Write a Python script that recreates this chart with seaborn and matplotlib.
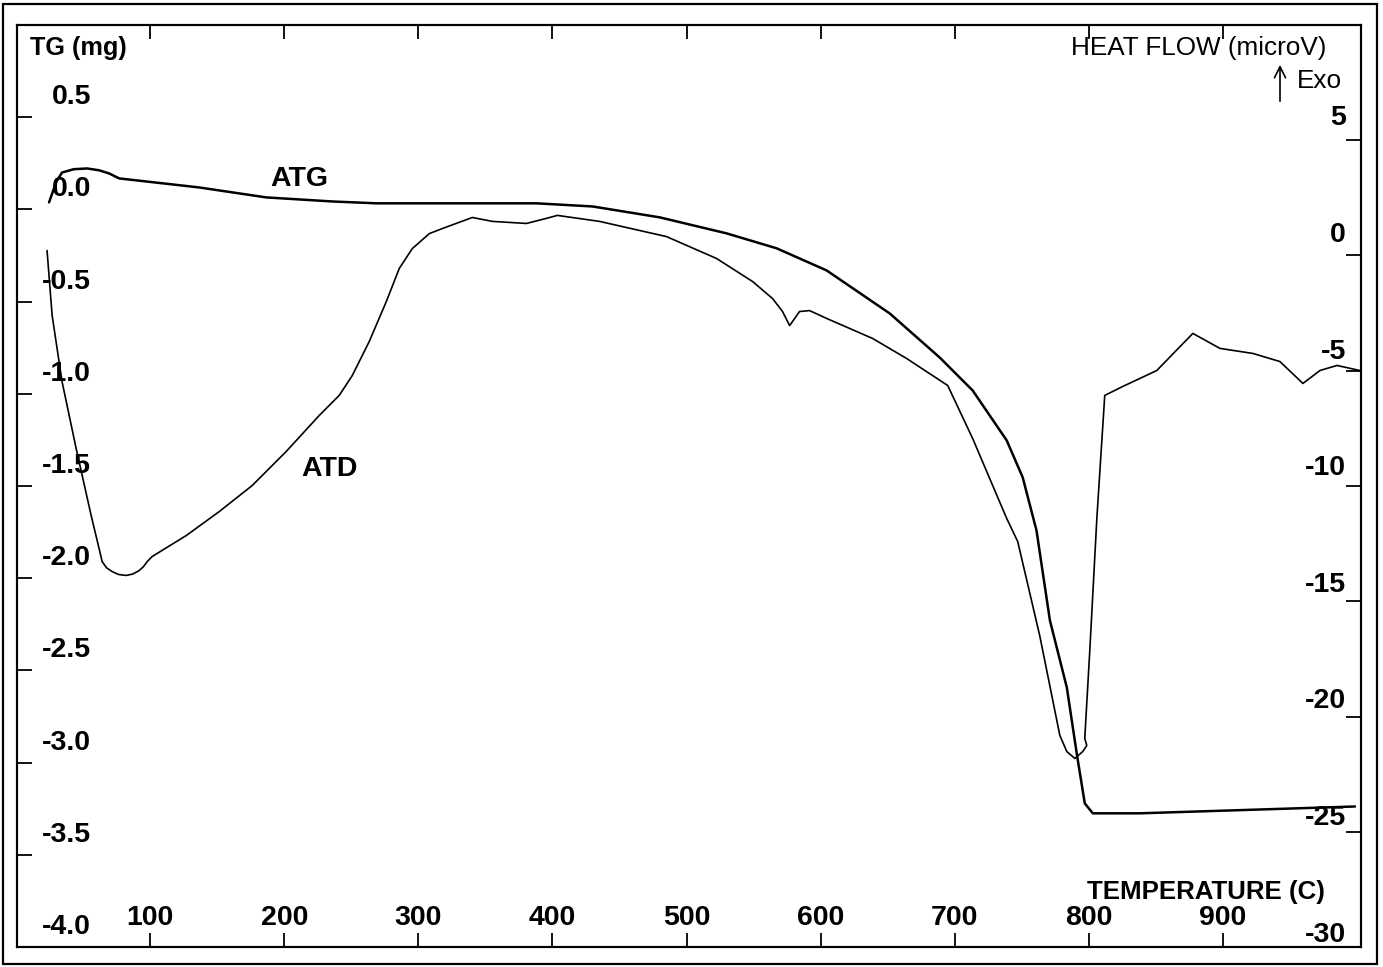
import matplotlib
matplotlib.use("Agg")
import matplotlib.pyplot as plt
import matplotlib.transforms as mtransforms
from matplotlib.patches import Rectangle
import seaborn as sns
import pandas as pd

# ---------------- data ----------------
tg_temp = [24.6, 30.0, 34.3, 43.0, 53.0, 62.0, 69.4, 76.9, 136.6, 186.6, 235.8, 268.7, 330.6, 388.0,
           429.9, 479.9, 529.9, 567.2, 604.5, 651.5, 688.8, 713.4, 738.8, 750.7,
           761.0, 771.0, 783.6, 791.0, 797.0, 803.0, 838.0, 998.5]
tg_mass = [0.038, 0.150, 0.200, 0.218, 0.222, 0.212, 0.195, 0.168, 0.119, 0.065, 0.043, 0.033, 0.033, 0.033,
           0.016, -0.043, -0.130, -0.211, -0.331, -0.564, -0.803, -0.982, -1.253, -1.453,
           -1.741, -2.229, -2.592, -2.950, -3.221, -3.275, -3.275, -3.238]

atd_temp = [23.1, 26.9, 34.3, 44.8, 56.0, 61.9, 64.2, 67.5, 71.6, 76.5, 82.1, 87.0, 91.8, 95.0, 97.8, 101.5,
            126.9, 151.5, 176.1, 201.5, 226.1, 241.0, 250.7, 263.4, 276.1, 285.8, 295.5,
            308.2, 317.9, 340.3, 355.2, 380.6, 395.5, 403.7, 435.1, 485.1, 522.4, 549.3,
            564.2, 571.6, 576.9, 584.3, 591.8, 604.5, 638.8, 664.2, 694.8, 713.4, 738.8,
            747.0, 763.4, 778.4, 783.6, 789.6, 795.5, 798.5, 797.0, 800.7, 806.0, 811.9,
            825.4, 850.7, 877.6, 897.8, 922.4, 942.5, 959.7, 972.4, 985.1, 1002.2]
atd_flow = [0.22, -2.60, -5.47, -8.37, -11.28, -12.71, -13.28, -13.55, -13.71, -13.84, -13.88, -13.82, -13.67, -13.50, -13.28, -13.06,
            -12.15, -11.11, -9.98, -8.50, -6.94, -6.07, -5.21, -3.73, -2.00, -0.56, 0.30,
            0.95, 1.17, 1.65, 1.48, 1.39, 1.61, 1.74, 1.48, 0.82, -0.13, -1.13,
            -1.87, -2.43, -3.04, -2.43, -2.39, -2.73, -3.60, -4.47, -5.64, -7.94, -11.41,
            -12.41, -16.49, -20.82, -21.52, -21.82, -21.52, -21.26, -20.95, -17.18, -11.41, -6.07,
            -5.68, -4.99, -3.38, -4.03, -4.25, -4.60, -5.55, -4.99, -4.77, -4.99]

x_ticks = [100, 200, 300, 400, 500, 600, 700, 800, 900]
tg_ticks = [0.5, 0.0, -0.5, -1.0, -1.5, -2.0, -2.5, -3.0, -3.5, -4.0]
tg_labels = ["0.5", "0.0", "-0.5", "-1.0", "-1.5", "-2.0", "-2.5", "-3.0", "-3.5", "-4.0"]
hf_ticks = [5, 0, -5, -10, -15, -20, -25, -30]
hf_labels = ["5", "0", "-5", "-10", "-15", "-20", "-25", "-30"]

tg_df = pd.DataFrame({"temp": tg_temp, "mass": tg_mass})
atd_df = pd.DataFrame({"temp": atd_temp, "flow": atd_flow})

# ---------------- style ----------------
sns.set_theme(style="white")
plt.rcParams["font.family"] = ["Liberation Sans", "DejaVu Sans"]

W, H = 1383, 967
fig = plt.figure(figsize=(W / 100, H / 100), dpi=100)
ax_l, ax_r, ax_t, ax_b = 17, 1361, 25, 947
ax = fig.add_axes([ax_l / W, 1 - ax_b / H, (ax_r - ax_l) / W, (ax_b - ax_t) / H])
ax2 = ax.twinx()

sns.lineplot(data=tg_df, x="temp", y="mass", ax=ax, color="black", lw=1.8,
             sort=False, estimator=None)
sns.lineplot(data=atd_df, x="temp", y="flow", ax=ax2, color="black", lw=1.2,
             sort=False, estimator=None)

ax.set_xlim(0.7, 1003)
ax.set_ylim(-4.0, 1.0)
ax2.set_ylim(-30, 10)
ax.set_xlabel("")
ax.set_ylabel("")
ax2.set_ylabel("")

for a in (ax, ax2):
    for s in a.spines.values():
        s.set_color("black")
        s.set_linewidth(1.5)

ax.set_xticks(x_ticks)
ax.set_yticks(tg_ticks)
ax2.set_yticks(hf_ticks)
ax.tick_params(axis="x", which="major", direction="in", length=10, width=1.3,
               top=True, bottom=True, labelbottom=False, labeltop=False, color="black")
ax.tick_params(axis="y", which="major", direction="in", length=10.5, width=1.3,
               left=True, right=False, labelleft=False, color="black")
ax2.tick_params(axis="y", which="major", direction="in", length=11, width=1.3,
                right=True, left=False, labelright=False, color="black")
ax2.tick_params(axis="x", bottom=False, top=False)

FS = 20.5
# left tick labels (inside, above the tick)
tr_left = mtransforms.offset_copy(
    mtransforms.blended_transform_factory(ax.transAxes, ax.transData),
    fig=fig, x=0, y=20, units="dots")
for v, lab in zip(tg_ticks, tg_labels):
    ax.text((91 - ax_l) / (ax_r - ax_l), v, lab, transform=tr_left, ha="right", va="center",
            fontsize=FS, fontweight="bold", color="black")

# right tick labels (their spacing drifts slightly from the ticks in the original)
for k, (v, lab) in enumerate(zip(hf_ticks, hf_labels)):
    tr_right = mtransforms.offset_copy(
        mtransforms.blended_transform_factory(ax2.transAxes, ax2.transData),
        fig=fig, x=0, y=22 - 1.4 * k, units="dots")
    ax2.text((1346 - ax_l) / (ax_r - ax_l), v, lab, transform=tr_right, ha="right", va="center",
             fontsize=FS, fontweight="bold", color="black")

# bottom tick labels
tr_bot = mtransforms.offset_copy(
    mtransforms.blended_transform_factory(ax.transData, ax.transAxes),
    fig=fig, x=0, y=29, units="dots")
for v in x_ticks:
    ax.text(v, 0, str(v), transform=tr_bot, ha="center", va="center",
            fontsize=FS, fontweight="bold", color="black")

def fx(px):
    return (px - ax_l) / (ax_r - ax_l)

def fy(py):
    return (ax_b - py) / (ax_b - ax_t)

ax.text(fx(30), fy(48), "TG (mg)", transform=ax.transAxes, ha="left", va="center",
        fontsize=18.2, fontweight="bold", color="black")
ax.text(fx(1326), fy(48), "HEAT FLOW (microV)", transform=ax.transAxes, ha="right", va="center",
        fontsize=18.8, color="black")
ax.text(fx(1297), fy(81), "Exo", transform=ax.transAxes, ha="left", va="center",
        fontsize=18.8, color="black")
ax.annotate("", xy=(fx(1280), fy(62)), xytext=(fx(1280), fy(104)),
            xycoords="axes fraction", textcoords="axes fraction",
            arrowprops=dict(arrowstyle="->", lw=1.2, color="black", mutation_scale=20))
ax.text(fx(1325), fy(892), "TEMPERATURE (C)", transform=ax.transAxes, ha="right", va="center",
        fontsize=18.6, fontweight="bold", color="black")

ax.text(211, 0.163, "ATG", ha="center", va="center", fontsize=FS, fontweight="bold", color="black")
ax.text(233.6, -1.41, "ATD", ha="center", va="center", fontsize=FS, fontweight="bold", color="black")

# outer frame
fig.patches.append(Rectangle((3 / W, 1 - 964 / H), (1377 - 3) / W, (964 - 4) / H,
                             transform=fig.transFigure, fill=False, lw=1.6,
                             edgecolor="black", zorder=0))

fig.savefig("out.png", dpi=100)
